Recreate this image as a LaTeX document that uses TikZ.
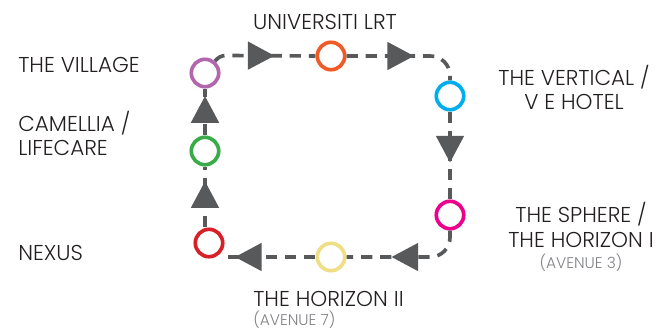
\documentclass[tikz,border=0pt]{standalone}
\usepackage{fontspec}
\setmainfont{Poppins Light}
\usetikzlibrary{arrows.meta}
\usetikzlibrary{decorations.markings}
\definecolor{linegray}{HTML}{58595B}
\definecolor{subgray}{HTML}{808285}
\definecolor{labelblack}{HTML}{231F20}
\definecolor{villagepurple}{HTML}{B266AD}
\definecolor{lrtorange}{HTML}{F15A24}
\definecolor{verticalblue}{HTML}{00AEEF}
\definecolor{camelliagreen}{HTML}{39AB49}
\definecolor{spherepink}{HTML}{EC008C}
\definecolor{nexusred}{HTML}{D72027}
\definecolor{horizonyellow}{HTML}{F0DE87}
\tikzset{
	stop/.style={shape=circle,draw=#1,line width=2.6pt,minimum size=19.5pt,inner sep=0pt},
	place/.style={text=labelblack,font=\fontsize{15.3}{17.7}\selectfont,inner sep=0pt},
	link/.style={draw=linegray,line width=2.6pt,dash pattern=on 8pt off 5.6pt,
		postaction={decorate,decoration={markings,
			mark=at position #1 with {\arrow[linegray,solid]{Triangle[length=19pt,width=19.5pt]}}}}},
}
\newcommand{\avenue}[1]{{\color{subgray}\fontsize{11}{12}\selectfont #1}}
\begin{document}
\begin{tikzpicture}[x=0.025cm,y=-0.025cm]
	\useasboundingbox (0,0) rectangle (661,330);
	\draw (205,73) node (village) [stop=villagepurple] {};
	\draw (331,56) node (lrt) [stop=lrtorange] {};
	\draw (450,96) node (vertical) [stop=verticalblue] {};
	\draw (205,151) node (camellia) [stop=camelliagreen] {};
	\draw (450,215) node (sphere) [stop=spherepink] {};
	\draw (209,243) node (nexus) [stop=nexusred] {};
	\draw (331,257) node (horizon) [stop=horizonyellow] {};
	\coordinate (nexusend) at (224,257);
	\coordinate (villagebend) at (226,55.5);
	\draw (18,65) node (villagetext) [place,anchor=west] {THE VILLAGE};
	\draw (325,22) node (lrttext) [place] {UNIVERSITI LRT};
	\draw (574,87.5) node (verticaltext) [place,align=center] {THE VERTICAL /\\V E HOTEL};
	\draw (18,133.5) node (camelliatext) [place,anchor=west,align=left] {CAMELLIA /\\LIFECARE};
	\draw (18,253) node (nexustext) [place,anchor=west] {NEXUS};
	\draw (581,237) node (spheretext) [place,align=center] {THE SPHERE /\\THE HORIZON I\\[-3pt]\avenue{(AVENUE 3)}};
	\draw (253,310) node (horizontext) [place,anchor=west,align=left] {THE HORIZON II\\[-4pt]\avenue{(AVENUE 7)}};
	\draw [link=0.6] (village.50) to [out=50,in=180] (villagebend) -- (lrt.west);
	\draw [link=0.565,rounded corners=14pt] (lrt) -| (vertical);
	\draw [link=0.58] (vertical) -- (sphere);
	\draw [link=0.63,rounded corners=14pt] (sphere) |- (horizon);
	\draw [link=0.88] (horizon) -- (nexusend);
	\draw [link=0.76] (camellia |- nexus.north) -- (camellia);
	\draw [link=0.84] (camellia) -- (village);
\end{tikzpicture}
\end{document}
